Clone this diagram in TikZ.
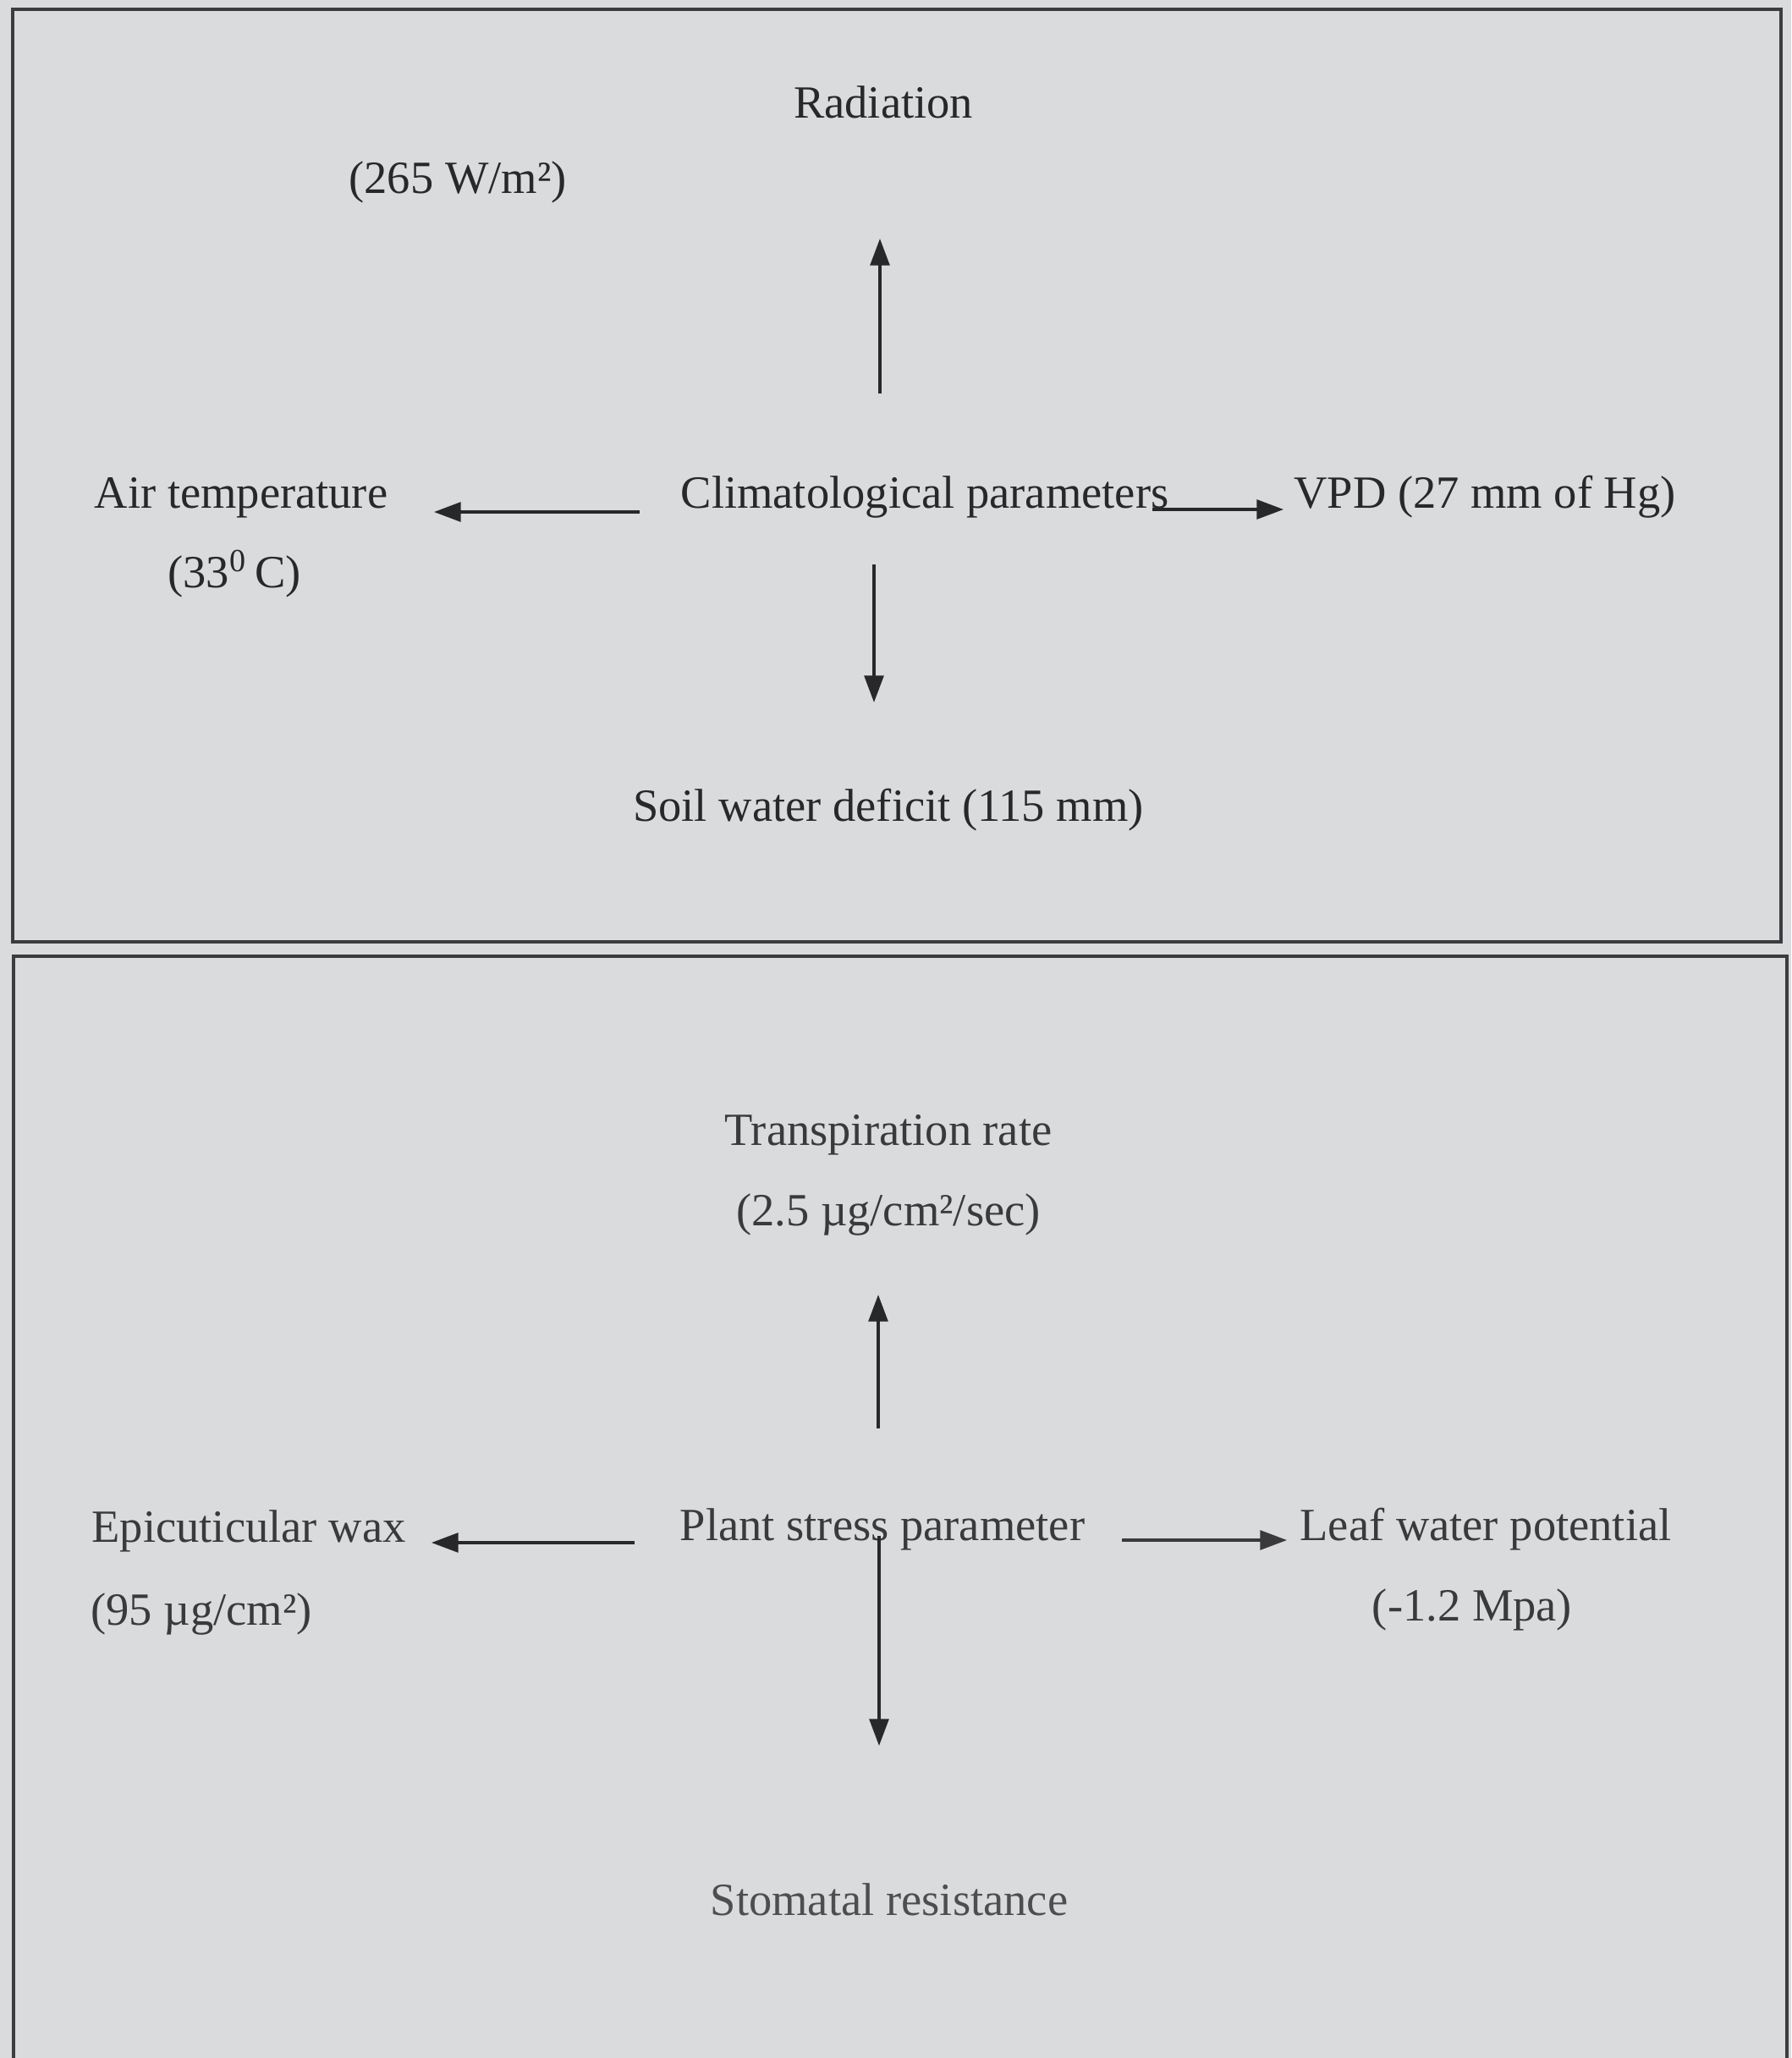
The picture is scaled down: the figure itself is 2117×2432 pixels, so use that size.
\documentclass[tikz,border=0pt]{standalone}
\usepackage{fontspec}
\setmainfont{Liberation Serif}
\usetikzlibrary{arrows.meta,calc}
\definecolor{bg}{RGB}{217,219,221}
\definecolor{frame}{RGB}{58,60,64}
\definecolor{inkA}{RGB}{40,40,42}
\definecolor{inkB}{RGB}{58,58,60}
\definecolor{inkC}{RGB}{78,78,80}
\begin{document}
\begin{tikzpicture}[x=0.01cm,y=-0.01cm,
  lbl/.style={anchor=base,inner sep=0pt,font=\fontsize{15.5}{18}\selectfont,text=inkA},
  lblB/.style={lbl,text=inkB},
  lblC/.style={lbl,text=inkC},
  arr/.style={draw=inkA,line width=0.9pt,-{Triangle[length=9pt,width=6.5pt]}},
  panel/.style={draw=frame,line width=1.4pt}]
\clip (0,0) rectangle (2117,2432);
\fill[bg] (0,0) rectangle (2117,2432);
% panels
\draw[panel] (15,11) rectangle (2105,1113);
\draw[panel] (16,1130) rectangle (2112,2470);
% top panel
\node[lbl] (rad) at (1044,139) {Radiation};
\node[lbl] (radv) at (541,228) {(265 W/m²)};
\node[lbl] (air) at (285,600) {Air temperature};
\node[lbl] (airv) at (277,694) {(33\textsuperscript{0}\,C)};
\node[lbl] (clim) at (1093,600) {Climatological parameters};
\node[lbl] (vpd) at (1755,600) {VPD (27 mm of Hg)};
\node[lbl] (soil) at (1050,970) {Soil water deficit (115 mm)};
\draw[arr] ($(clim.base)+(-53,-135)$) -- ($(rad.base)+(-4,143)$);
\draw[arr] ($(clim.base)+(-337,5)$) -- ($(air.base)+(228,5)$);
\draw[arr] ($(clim.base)+(269,2)$) -- ($(vpd.base)+(-238,2)$);
\draw[arr] ($(clim.base)+(-60,67)$) -- ($(soil.base)+(-17,-140)$);
% bottom panel
\node[lblB] (trans) at (1050,1353) {Transpiration rate};
\node[lblB] (transv) at (1050,1448) {(2.5 µg/cm²/sec)};
\node[lblB] (epi) at (294,1822) {Epicuticular wax};
\node[lblB] (epiv) at (238,1920) {(95 µg/cm²)};
\node[lblB] (plant) at (1043,1820) {Plant stress parameter};
\node[lblB] (leaf) at (1756,1820) {Leaf water potential};
\node[lblB] (leafv) at (1740,1915) {(-1.2 Mpa)};
\node[lblC] (stom) at (1051,2263) {Stomatal resistance};
\draw[arr] ($(plant.base)+(-5,-132)$) -- ($(transv.base)+(-12,82)$);
\draw[arr] ($(plant.base)+(-293,3)$) -- ($(epi.base)+(216,1)$);
\draw[arr,draw=inkB] ($(plant.base)+(283,0)$) -- ($(leaf.base)+(-235,0)$);
\draw[arr] ($(plant.base)+(-4,-5)$) -- ($(stom.base)+(-12,-200)$);
\end{tikzpicture}
\end{document}
